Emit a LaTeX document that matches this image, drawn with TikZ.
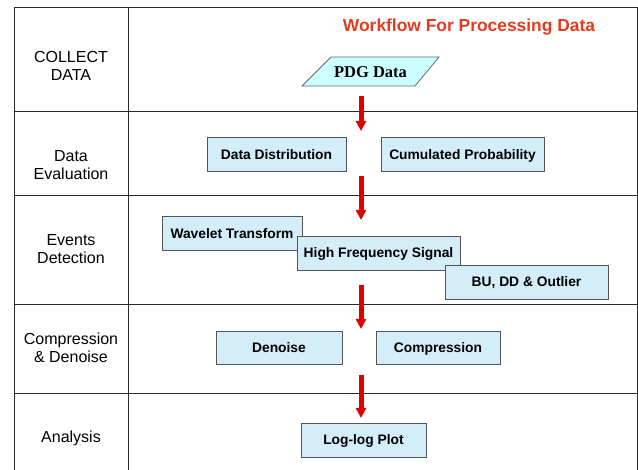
\documentclass[tikz,border=0pt]{standalone}
\usepackage{fontspec}
\setmainfont{Liberation Sans}
\newfontfamily\tnr{Liberation Serif}
\usetikzlibrary{arrows.meta}
\definecolor{titlered}{HTML}{E63A1E}
\definecolor{boxfill}{HTML}{D3EDF9}
\definecolor{pdgfill}{HTML}{CCFFFF}
\definecolor{arrred}{HTML}{E00000}
\definecolor{gridline}{HTML}{2A2A2A}
\tikzset{
  grid/.style={draw=gridline, line width=1pt},
  rowlabel/.style={align=center, font=\fontsize{16}{18.5}\selectfont, inner sep=0pt},
  procbox/.style={draw=gridline!80, line width=0.8pt, fill=boxfill, minimum height=34pt,
    font=\bfseries\fontsize{13.8}{16}\selectfont, inner sep=0pt,
    text height=10pt, text depth=0pt},
  flowarrow/.style={draw=arrred, line width=5pt,
    -{Triangle[width=10pt,length=10pt,fill=arrred]}}
}
\begin{document}
\begin{tikzpicture}[x=1pt,y=-1pt]
\useasboundingbox (0,0) rectangle (638,470);
% table
\draw[grid] (14,470) -- (14,8) -- (637,8) -- (637,470);
\draw[grid] (128,8) -- (128,470);
\foreach \yy in {112,196,305,394} \draw[grid] (14,\yy) -- (637,\yy);
% row labels
\node[rowlabel] (r1) at (71,66) {COLLECT\\DATA};
\node[rowlabel] (r2) at (71,165) {Data\\Evaluation};
\node[rowlabel] (r3) at (71,249) {Events\\Detection};
\node[rowlabel] (r4) at (71,348) {Compression\\\& Denoise};
\node[rowlabel] (r5) at (71,438) {Analysis};
% title
\node[text=titlered, font=\bfseries\fontsize{17.4}{20}\selectfont] (title) at (469,27) {Workflow For Processing Data};
% PDG data parallelogram
\coordinate (p1) at (302,86);
\coordinate (p2) at (331,57);
\coordinate (p3) at (439,57);
\coordinate (p4) at (415,86);
\draw[draw=gridline!70, line width=0.8pt, fill=pdgfill] (p1) -- (p2) -- (p3) -- (p4) -- cycle;
\node[font=\tnr\bfseries\fontsize{16.5}{19}\selectfont] (pdg) at (370.5,72) {PDG Data};
% boxes
\node[procbox, minimum width=139pt] (dd) at (276.5,154.5) {Data Distribution};
\node[procbox, minimum width=163pt] (cp) at (462.5,154.5) {Cumulated Probability};
\node[procbox, minimum width=140pt] (wt) at (232,233.5) {Wavelet Transform};
\node[procbox, minimum width=163pt] (hfs) at (378.5,253) {High Frequency Signal};
\node[procbox, minimum width=163pt] (bu) at (526.5,282) {BU, DD \& Outlier};
\node[procbox, minimum width=126pt, minimum height=33pt] (dn) at (279,347.5) {Denoise};
\node[procbox, minimum width=124pt, minimum height=33pt] (cmp) at (438,347.5) {Compression};
\node[procbox, minimum width=125pt] (ll) at (363.5,440) {Log-log Plot};
% arrows
\coordinate (a1s) at (361,96);  \coordinate (a1e) at (361,131);
\coordinate (a2s) at (361,176); \coordinate (a2e) at (361,220);
\coordinate (a3s) at (361,285); \coordinate (a3e) at (361,329);
\coordinate (a4s) at (361,375); \coordinate (a4e) at (361,418);
\draw[flowarrow] (a1s) -- (a1e);
\draw[flowarrow] (a2s) -- (a2e);
\draw[flowarrow] (a3s) -- (a3e);
\draw[flowarrow] (a4s) -- (a4e);
\end{tikzpicture}
\end{document}
